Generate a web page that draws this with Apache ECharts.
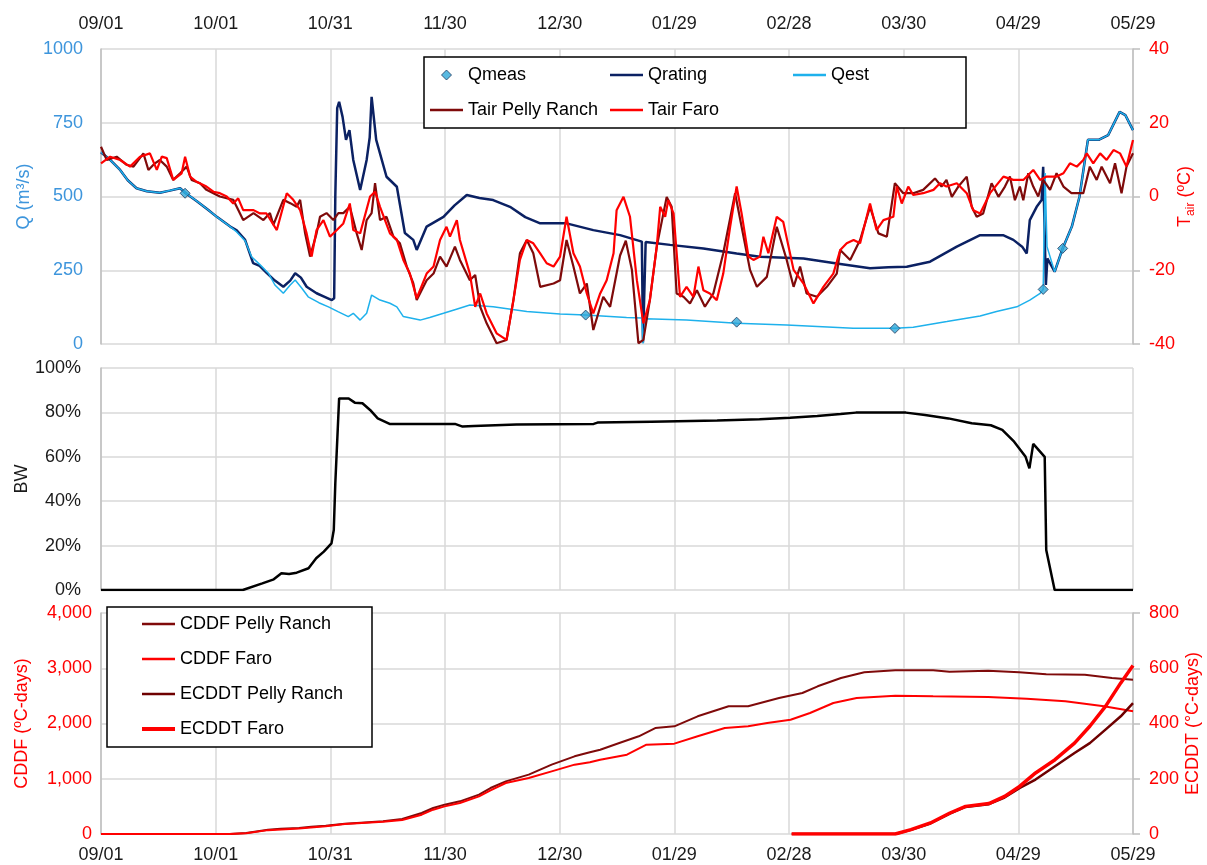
<!DOCTYPE html>
<html>
<head>
<meta charset="utf-8">
<script src="https://cdn.jsdelivr.net/npm/echarts@6/dist/echarts.min.js"></script>
<style>
html, body { margin: 0; padding: 0; background: #fff; }
#chart { width: 1207px; height: 865px; }
</style>
</head>
<body>
<div id="chart"></div>
<script>
// x axis runs in days since 09/01, ticks every 30 days
const tickLabels = ['09/01', '10/01', '10/31', '11/30', '12/30', '01/29', '02/28', '03/30', '04/29', '05/29'];

// discharge (m3/s)
const qmeas = [[22, 511], [126.8, 98], [166.3, 74], [207.7, 53], [246.5, 185], [251.6, 324]];
const qrating = [
    [0, 650], [2.4, 624], [5, 590], [7, 555], [9.3, 528], [12, 518], [15.4, 513], [18, 520], [20.7, 528], [22, 513],
    [25, 485], [28, 455], [30.3, 431], [33.8, 398], [35.5, 385], [37.7, 353], [39.8, 274], [41.5, 265], [43.4, 240],
    [45.5, 215], [47.7, 194], [49.5, 215], [50.8, 240], [52.3, 225], [53.8, 194], [56.4, 172], [58.5, 160], [60.4, 149],
    [61.0, 155], [61.3, 500], [61.8, 800], [62.3, 821], [63.2, 770], [64.1, 692], [65, 725], [66, 624], [67.8, 522],
    [69.5, 624], [70.3, 700], [70.8, 838], [72, 692], [74.7, 567], [77.4, 533], [79.5, 376], [81.7, 353], [82.6, 319],
    [85.2, 398], [89.6, 431], [92.5, 470], [95.7, 505], [99, 495], [102.6, 488], [107, 465], [111, 430], [114.9, 409],
    [121.8, 409], [128.8, 386], [135.8, 369], [141.5, 347], [141.8, 5], [142.2, 5], [142.5, 346], [148.9, 336],
    [157.6, 324], [166.3, 307], [172.4, 296], [183.8, 290], [192.5, 273], [201.2, 257], [206, 260], [210.8, 262],
    [216.9, 279], [223.9, 330], [230, 369], [236, 369], [238.7, 353], [241, 330], [242.2, 307], [243, 420],
    [244.8, 465], [246.1, 488], [246.5, 601], [246.9, 600], [247.2, 200], [247.6, 290], [249.5, 245], [251.6, 324],
    [254, 398], [256, 499], [258.2, 692], [261, 692], [263.5, 708], [266.5, 787], [268, 776], [270, 725]
];
const qest = [
    [0, 650], [2.4, 624], [5, 590], [7, 555], [9.3, 528], [12, 518], [15.4, 513], [18, 520], [20.7, 528], [22, 513],
    [25, 485], [28, 455], [30.3, 431], [33.8, 398], [35.5, 380], [37.7, 350], [39.4, 296], [41.5, 270], [43.8, 240],
    [45.5, 200], [47.7, 172], [49.5, 200], [50.8, 217], [52.5, 190], [54.2, 160], [57, 140], [59.5, 126], [62, 110],
    [64.7, 93], [66, 104], [67.8, 81], [69.5, 104], [70.8, 166], [73, 149], [75.6, 138], [77.4, 126], [79.1, 93],
    [83.5, 81], [86, 90], [89.6, 104], [93, 118], [96.5, 132], [102.6, 126], [111.4, 110], [120.1, 102], [126.8, 98],
    [137.5, 90], [141.5, 88], [141.8, 2], [142.2, 2], [142.5, 86], [153.2, 81], [166.3, 70], [179.4, 64], [196.8, 53],
    [203.8, 53], [207.7, 53], [212.5, 57], [221.3, 76], [230, 95], [234.3, 110], [239.6, 126], [243, 149],
    [245.7, 172], [246.5, 185], [247, 580], [247.5, 330], [249.5, 245], [251.6, 324], [254, 398], [256, 499],
    [258.2, 692], [261, 692], [263.5, 708], [266.5, 787], [268, 776], [270, 725]
];

// air temperature (degC)
const tairPelly = [
    [0, 13.5], [1.5, 9.9], [4.1, 10.8], [6.7, 8.6], [8.5, 8.1], [11.1, 11.7], [12.4, 7.2], [14.1, 9.0], [15.4, 9.9],
    [17.2, 8.1], [18.9, 4.5], [20.7, 6.3], [22.4, 8.1], [23.7, 4.5], [25.9, 3.6], [27.6, 1.8], [29.4, 0.9], [31.1, 0],
    [34.6, -0.9], [37.2, -6.4], [39.9, -4.5], [42.5, -6.4], [44.2, -4.5], [45.1, -7.7], [47.7, -0.9], [49.5, -1.8],
    [51.2, -2.8], [52.1, -0.9], [53.4, -10], [54.7, -16.3], [56.4, -10], [57.3, -5.5], [59.0, -4.5], [60.8, -6.4],
    [62.1, -4.5], [63.4, -4.5], [65.1, -2.8], [66.9, -10], [68.2, -14.5], [69.5, -6.4], [70.8, -4.5], [71.7, 3.6],
    [73.0, -6.4], [74.7, -5.5], [76.5, -10.9], [78.2, -12.7], [80.0, -19.0], [81.7, -23.5], [82.6, -28.1],
    [85.2, -22.7], [87.0, -20.9], [88.7, -16.3], [90.4, -19.0], [92.6, -13.6], [93.9, -17.2], [96.5, -22.7],
    [97.9, -21.3], [99.2, -29.9], [100.9, -34.4], [103.5, -39.8], [106.1, -38.9], [107.9, -28.1], [109.6, -15.4],
    [111.4, -11.8], [113.1, -15.4], [114.9, -24.5], [118.4, -23.6], [120.1, -22.7], [121.8, -11.8], [123.6, -19.0],
    [125.3, -26.3], [127.1, -23.6], [128.8, -36.2], [131.4, -27.2], [133.2, -29.9], [135.8, -16.0], [137.3, -12.0],
    [138.9, -19.9], [140.6, -39.8], [141.9, -38.9], [143.6, -28.1], [145.4, -13.6], [148.0, -0.1], [149.3, -2.8],
    [150.6, -26.3], [152.4, -27.2], [154.1, -29.0], [155.9, -25.4], [158.0, -29.9], [160.2, -26.3], [162.8, -15.4],
    [165.9, 0.9], [167.6, -8.2], [169.8, -19.9], [171.6, -24.5], [174.2, -21.8], [176.8, -8.2], [179.4, -17.2],
    [181.2, -24.5], [182.9, -19.0], [184.6, -26.3], [187.3, -27.2], [189.9, -24.5], [192.5, -20.9], [193.4, -14.5],
    [196.0, -17.2], [198.6, -11.8], [201.2, -2.8], [203.4, -10.0], [205.6, -10.9], [207.7, 3.6], [209.9, 0.9],
    [212.5, 0.9], [215.1, 1.8], [218.2, 4.9], [219.9, 2.7], [221.2, 4.5], [222.6, -0.1], [224.3, 2.7], [226.5, 5.4],
    [227.8, -2.8], [229.1, -5.5], [230.8, -4.6], [233.0, 3.6], [234.8, -0.1], [236.5, 2.7], [237.8, 5.4],
    [239.1, -1.0], [240.4, 2.7], [241.3, -1.0], [242.6, 6.3], [243.9, 2.7], [245.2, 0], [246.5, 4.5], [248.3, 1.8],
    [250.0, 6.3], [251.8, 2.7], [253.9, 0.9], [257.0, 0.9], [258.7, 8.1], [260.5, 4.5], [261.8, 8.1], [264.0, 3.6],
    [265.3, 9.0], [267.0, 0.9], [268.3, 8.1], [270, 11.7]
];
const tairFaro = [
    [0, 9.0], [2.4, 10.8], [5.0, 9.9], [7.6, 8.1], [10.2, 10.8], [12.8, 11.7], [14.6, 7.2], [15.9, 10.8], [17.2, 10.4],
    [18.9, 4.5], [21.1, 6.3], [22.0, 10.8], [23.3, 5.4], [25.0, 4.0], [27.6, 2.7], [29.4, 1.3], [31.1, 0.9], [32.9, 0],
    [34.6, -1.9], [35.9, -0.5], [37.2, -3.7], [39.9, -3.7], [41.6, -4.6], [43.3, -4.6], [46.0, -9.1], [48.6, 0.9],
    [50.3, -0.9], [52.1, -3.7], [53.8, -10], [55.1, -16.3], [56.4, -9.1], [58.2, -6.4], [59.9, -10.9], [61.7, -9.1],
    [63.4, -7.3], [65.1, -1.9], [66.0, -9.1], [67.8, -10.0], [70.4, 0], [71.7, 1.3], [73.0, -2.8], [75.6, -10],
    [77.4, -11.7], [79.1, -17.2], [80.8, -20.9], [82.6, -27.6], [85.2, -20.9], [87.0, -19.0], [88.7, -11.8],
    [90.4, -8.2], [91.3, -10.9], [93.1, -6.4], [93.9, -11.8], [96.5, -20.9], [97.9, -29.9], [99.2, -26.3],
    [100.9, -31.7], [103.5, -37.1], [106.1, -38.9], [107.9, -28.1], [109.6, -17.2], [111.4, -11.8], [113.1, -12.7],
    [114.9, -15.4], [116.6, -18.1], [118.4, -19.0], [120.1, -16.3], [121.8, -5.5], [123.6, -15.4], [125.3, -19.0],
    [127.1, -26.3], [128.8, -31.7], [130.6, -26.3], [132.3, -22.7], [134.1, -15.4], [134.9, -3.7], [136.7, -0.1],
    [138.4, -5.5], [140.2, -22.7], [141.9, -34.4], [143.6, -28.1], [145.4, -13.6], [146.3, -2.8], [147.6, -5.5],
    [148.4, -1.0], [149.8, -4.6], [151.5, -27.2], [153.2, -24.5], [155.0, -27.2], [156.3, -19.0], [157.6, -25.4],
    [159.3, -26.3], [161.1, -28.1], [162.8, -20.9], [164.6, -8.2], [166.3, 2.7], [167.6, -4.6], [169.4, -16.3],
    [170.7, -17.2], [172.4, -16.3], [173.3, -10.9], [174.6, -15.4], [176.8, -5.5], [178.5, -6.9], [181.2, -19.9],
    [183.8, -23.6], [186.4, -29.0], [189.0, -24.5], [191.6, -20.9], [193.4, -14.5], [195.1, -12.7], [196.9, -11.8],
    [198.6, -12.7], [201.2, -1.9], [202.9, -9.1], [204.7, -6.4], [207.3, -5.5], [208.2, 2.7], [209.5, -1.9],
    [211.2, 2.7], [212.5, 0.4], [215.1, 0.9], [217.8, 1.8], [219.5, 3.6], [221.2, 2.7], [223.9, 3.6], [226.5, 0.9],
    [228.2, -3.7], [230.0, -4.6], [232.6, 0.9], [236.1, 5.4], [238.7, 4.5], [241.3, 4.5], [243.9, 7.2], [245.7, 4.5],
    [247.4, 5.4], [250.0, 5.4], [251.8, 6.3], [253.5, 9.0], [255.3, 8.1], [257.0, 9.9], [257.9, 11.7], [259.6, 9.0],
    [261.4, 11.7], [263.1, 9.9], [264.9, 12.6], [266.6, 11.7], [268.3, 8.1], [270, 15.3]
];

// ice cover (BW, %)
const bw = [
    [0, 0], [37.1, 0], [42.2, 3.0], [45.2, 4.8], [47.2, 7.5], [49.2, 7.2], [51.2, 7.8], [54.3, 9.8], [56.3, 14.3],
    [58.3, 17.3], [60.3, 21.0], [60.9, 27], [61.3, 48], [62.3, 86.3], [64.8, 86.3], [66.4, 84.4], [68.4, 84.1],
    [70.4, 81.1], [72.4, 77.3], [75.5, 74.8], [78.5, 74.8], [92.6, 74.8], [94.6, 73.6], [97.6, 73.9], [108.7, 74.5],
    [128.9, 74.8], [129.9, 75.4], [144.0, 75.8], [161.2, 76.3], [172.3, 76.9], [180.3, 77.6], [187.4, 78.4],
    [193.5, 79.3], [197.5, 79.9], [210.6, 79.9], [215.6, 78.8], [221.7, 77.3], [227.8, 75.1], [232.8, 74.2],
    [235.8, 72.1], [238.9, 66.8], [241.9, 60.0], [242.9, 54.8], [243.9, 65.8], [246.9, 60.0], [247.3, 18.0],
    [249.5, 0], [270, 0]
];

// cumulative degree-days
const cddfPelly = [
    [0, 0], [33.7, 0], [38, 20], [43.7, 78], [47, 95], [51.8, 109], [55, 130], [58.8, 151], [63.8, 187], [68, 205],
    [73.8, 229], [78.8, 271], [83.9, 380], [86.9, 470], [89.9, 531], [93.9, 591], [98.9, 712], [101.9, 832],
    [105.9, 953], [111.9, 1074], [117.9, 1255], [123.9, 1406], [127.9, 1480], [130.6, 1526], [135.6, 1647],
    [140.7, 1768], [145, 1918], [150, 1949], [156.1, 2130], [164.2, 2311], [169.3, 2311], [177.4, 2461],
    [183.5, 2552], [187.5, 2673], [193.6, 2823], [199.7, 2926], [207.8, 2962], [217.7, 2962], [222, 2938],
    [232.1, 2956], [240.2, 2926], [247.3, 2890], [257.4, 2884], [264.5, 2823], [270, 2793]
];
const cddfFaro = [
    [0, 0], [33.7, 0], [38, 15], [43.7, 70], [51.8, 100], [58.8, 140], [63.8, 180], [73.8, 220], [78.8, 255],
    [83.9, 350], [86.9, 440], [89.9, 500], [93.9, 560], [98.9, 680], [101.9, 790], [105.9, 923], [111.9, 1014],
    [117.9, 1134], [123.9, 1255], [127.9, 1300], [130.6, 1345], [137.6, 1436], [142.7, 1617], [150, 1635],
    [156.1, 1768], [163.2, 1918], [169.3, 1949], [174.3, 2009], [180.4, 2069], [185.5, 2190], [191.6, 2371],
    [197.7, 2461], [207.8, 2504], [217.7, 2492], [232.1, 2480], [242.2, 2449], [252.3, 2401], [262.4, 2311],
    [270, 2220]
];
const ecddtPelly = [
    [180.7, 0], [207.8, 0], [211.9, 15], [217, 38], [222.1, 74], [226.2, 98], [232.3, 108], [236.4, 132],
    [240.4, 167], [244.5, 197], [249.6, 245], [254.7, 293], [258.7, 329], [262.8, 378], [266.8, 426], [270, 474]
];
const ecddtFaro = [
    [180.7, 0], [207.8, 0], [211.9, 16], [217, 40], [222.1, 76], [226.2, 100], [232.3, 110], [236.4, 136],
    [240.4, 173], [244.5, 221], [249.6, 269], [254.7, 329], [258.7, 390], [262.8, 462], [266.8, 547], [270, 610]
];

const FONT = '"Liberation Sans", Arial, sans-serif';
const GRID_LINE = { color: '#D9D9D9', width: 1.5 };
const AXIS_LINE = { show: true, lineStyle: { color: '#BFBFBF', width: 1.5 } };
const BLUE = '#3D95DC';
const RED = '#FF0000';

// legend icons: plain line strokes and a small diamond
const ICON_LINE = 'path://M0,0 L33,0 L33,2.5 L0,2.5 Z';
const ICON_THICK = 'path://M0,0 L33,0 L33,4 L0,4 Z';
const ICON_DIAMOND = 'path://M5,0 L10,5 L5,10 L0,5 Z';

function xAxisFor(gridIndex, position, showLabels, margin) {
    return {
        type: 'value',
        gridIndex: gridIndex,
        position: position,
        min: 0,
        max: 270,
        interval: 30,
        axisLine: { show: false },
        axisTick: { show: false },
        axisLabel: {
            show: showLabels,
            margin: margin,
            fontSize: 18,
            color: '#1a1a1a',
            formatter: v => tickLabels[Math.round(v / 30)]
        },
        splitLine: { show: true, lineStyle: GRID_LINE }
    };
}

function lineSeries(name, data, color, width, xi, yi, z) {
    return {
        name: name,
        type: 'line',
        xAxisIndex: xi,
        yAxisIndex: yi,
        data: data,
        symbol: 'none',
        showSymbol: false,
        z: z || 2,
        lineStyle: { color: color, width: width },
        itemStyle: { color: color }
    };
}

const legendText = { fontSize: 18, color: '#000', fontFamily: FONT, lineHeight: 18 };
function legendCol(left, top, names) {
    return {
        orient: 'vertical',
        left: left,
        top: top,
        padding: 0,
        itemGap: 17,
        itemWidth: 33,
        itemHeight: 10,
        symbolKeepAspect: true,
        textStyle: legendText,
        data: names
    };
}

const chart = echarts.init(document.getElementById('chart'));

const option = {
    animation: false,
    textStyle: { fontFamily: FONT },
    grid: [
        { left: 101, right: 74, top: 49, height: 295, outerBoundsMode: 'none' },
        { left: 101, right: 74, top: 368, height: 222, outerBoundsMode: 'none' },
        { left: 101, right: 74, top: 613, height: 221, outerBoundsMode: 'none' }
    ],
    xAxis: [
        xAxisFor(0, 'top', true, 16),
        xAxisFor(1, 'bottom', false, 8),
        xAxisFor(2, 'bottom', true, 12)
    ],
    yAxis: [
        {
            type: 'value', gridIndex: 0, position: 'left', min: 0, max: 1000, interval: 250,
            name: 'Q (m³/s)', nameLocation: 'middle', nameGap: 68, nameRotate: 90, nameMoveOverlap: false,
            nameTextStyle: { color: BLUE, fontSize: 18 },
            axisLine: AXIS_LINE, axisTick: { show: false },
            axisLabel: { color: BLUE, fontSize: 18, margin: 18, formatter: v => String(v) },
            splitLine: { show: true, lineStyle: GRID_LINE }
        },
        {
            type: 'value', gridIndex: 0, position: 'right', min: -40, max: 40, interval: 20,
            name: 'T{s|air} (ºC)', nameLocation: 'middle', nameGap: 40, nameRotate: 90, nameMoveOverlap: false,
            nameTextStyle: {
                color: RED, fontSize: 18, lineHeight: 24,
                rich: { s: { color: RED, fontSize: 12, lineHeight: 12, verticalAlign: 'bottom' } }
            },
            axisLine: AXIS_LINE,
            axisTick: { show: true, length: 7, lineStyle: { color: '#BFBFBF', width: 1.5 } },
            axisLabel: { color: RED, fontSize: 18, margin: 16, formatter: v => String(v) },
            splitLine: { show: false }
        },
        {
            type: 'value', gridIndex: 1, position: 'left', min: 0, max: 100, interval: 20,
            name: 'BW', nameLocation: 'middle', nameGap: 70, nameRotate: 90, nameMoveOverlap: false,
            nameTextStyle: { color: '#1a1a1a', fontSize: 18 },
            axisLine: AXIS_LINE, axisTick: { show: false },
            axisLabel: { color: '#1a1a1a', fontSize: 18, margin: 20, formatter: '{value}%' },
            splitLine: { show: true, lineStyle: GRID_LINE }
        },
        {
            type: 'value', gridIndex: 2, position: 'left', min: 0, max: 4000, interval: 1000,
            name: 'CDDF (ºC-days)', nameLocation: 'middle', nameGap: 70, nameRotate: 90, nameMoveOverlap: false,
            nameTextStyle: { color: RED, fontSize: 18 },
            axisLine: AXIS_LINE, axisTick: { show: false },
            axisLabel: { color: RED, fontSize: 18, margin: 9, formatter: v => v.toLocaleString('en-US') },
            splitLine: { show: true, lineStyle: GRID_LINE }
        },
        {
            type: 'value', gridIndex: 2, position: 'right', min: 0, max: 800, interval: 200,
            name: 'ECDDT (°C-days)', nameLocation: 'middle', nameGap: 51, nameRotate: 90, nameMoveOverlap: false,
            nameTextStyle: { color: RED, fontSize: 18 },
            axisLine: AXIS_LINE,
            axisTick: { show: true, length: 7, lineStyle: { color: '#BFBFBF', width: 1.5 } },
            axisLabel: { color: RED, fontSize: 18, margin: 16, formatter: v => String(v) },
            splitLine: { show: false }
        }
    ],
    legend: [
        legendCol(430, 66, [
            { name: 'Qmeas', icon: ICON_DIAMOND, itemStyle: { borderColor: '#1F3A5F', borderWidth: 1 } },
            { name: 'Tair Pelly Ranch', icon: ICON_LINE }
        ]),
        legendCol(610, 66, [{ name: 'Qrating', icon: ICON_LINE }, { name: 'Tair Faro', icon: ICON_LINE }]),
        legendCol(793, 66, [{ name: 'Qest', icon: ICON_LINE }]),
        legendCol(142, 615, [
            { name: 'CDDF Pelly Ranch', icon: ICON_LINE },
            { name: 'CDDF Faro', icon: ICON_LINE },
            { name: 'ECDDT Pelly Ranch', icon: ICON_LINE },
            { name: 'ECDDT Faro', icon: ICON_THICK }
        ])
    ],
    graphic: [
        {
            type: 'rect', z: 3,
            shape: { x: 424, y: 57, width: 542, height: 71 },
            style: { fill: '#fff', stroke: '#000', lineWidth: 1.5 }
        },
        {
            type: 'rect', z: 3,
            shape: { x: 107, y: 607, width: 265, height: 140 },
            style: { fill: '#fff', stroke: '#000', lineWidth: 1.5 }
        }
    ],
    series: [
        lineSeries('Qrating', qrating, '#0B2163', 2.5, 0, 0),
        lineSeries('Qest', qest, '#1EB1EC', 1.5, 0, 0),
        lineSeries('Tair Pelly Ranch', tairPelly, '#7F0A0A', 2.2, 0, 1),
        lineSeries('Tair Faro', tairFaro, RED, 2.2, 0, 1),
        {
            name: 'Qmeas',
            type: 'scatter',
            xAxisIndex: 0,
            yAxisIndex: 0,
            data: qmeas,
            symbol: 'diamond',
            symbolSize: 10,
            z: 5,
            itemStyle: { color: '#2FA8D8', borderColor: '#1F3A5F', borderWidth: 1 }
        },
        lineSeries('BW', bw, '#000', 2.5, 1, 2),
        lineSeries('CDDF Pelly Ranch', cddfPelly, '#7F0A0A', 2, 2, 3),
        lineSeries('CDDF Faro', cddfFaro, RED, 2, 2, 3),
        lineSeries('ECDDT Pelly Ranch', ecddtPelly, '#6E0000', 2.5, 2, 4),
        lineSeries('ECDDT Faro', ecddtFaro, RED, 3.5, 2, 4)
    ]
};

chart.setOption(option);
</script>
</body>
</html>
